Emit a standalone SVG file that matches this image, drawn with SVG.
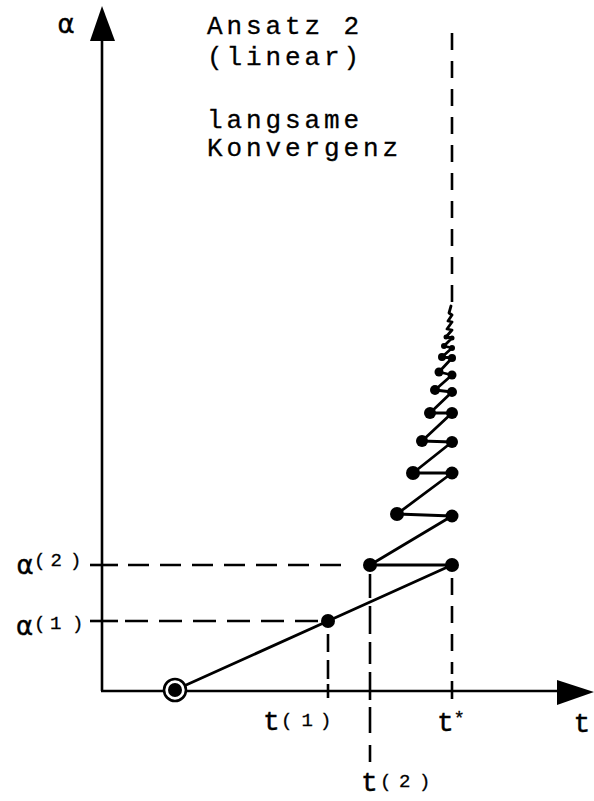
<svg xmlns="http://www.w3.org/2000/svg" width="594" height="801" viewBox="0 0 594 801">
<style>
.ax{stroke:#000;stroke-width:2.6;fill:none}
.ln{stroke:#000;stroke-width:2.8;fill:none;stroke-linejoin:round;stroke-linecap:round}
.dh{stroke:#000;stroke-width:2.6;fill:none}
.dot{fill:#000}
.mono{font-family:"Liberation Mono","DejaVu Sans Mono",monospace;fill:#000}
.big{font-size:26px;letter-spacing:3.9px;stroke:#000;stroke-width:0.3px}
.tl{font-size:28px;stroke:#000;stroke-width:0.4px}
.sup{font-size:19px;stroke:#000;stroke-width:0.3px}
.greek{font-family:"DejaVu Sans","Liberation Sans",sans-serif;font-size:26px;fill:#000;stroke:#000;stroke-width:0.4px}
</style>
<rect width="594" height="801" fill="#fff"/>
<g id="axes">
  <line class="ax" x1="102" y1="691" x2="102" y2="38"/>
  <polygon points="102,6 90,41 115,41" fill="#000"/>
  <line class="ax" x1="101" y1="691" x2="560" y2="691"/>
  <polygon points="594,692 557,680 557,705" fill="#000"/>
</g>
<g id="connectors">
  <line class="dh" x1="90" y1="565" x2="118" y2="565"/>
  <line class="dh" x1="128" y1="565" x2="352" y2="565" stroke-dasharray="21 11"/>
  <line class="dh" x1="90" y1="621" x2="118" y2="621"/>
  <line class="dh" x1="125" y1="621" x2="322" y2="621" stroke-dasharray="23 11"/>
  <line class="dh" x1="328" y1="634" x2="328" y2="652"/>
  <line class="dh" x1="328" y1="660" x2="328" y2="679"/>
  <line class="dh" x1="328" y1="684" x2="328" y2="698"/>
  <line class="dh" x1="370" y1="574" x2="370" y2="598"/>
  <line class="dh" x1="370" y1="606" x2="370" y2="634"/>
  <line class="dh" x1="370" y1="642" x2="370" y2="664"/>
  <line class="dh" x1="370" y1="672" x2="370" y2="700"/>
  <line class="dh" x1="370" y1="707" x2="370" y2="733"/>
  <line class="dh" x1="370" y1="745" x2="370" y2="762"/>
  <line class="dh" x1="452" y1="33" x2="452" y2="306" stroke-dasharray="17 11"/>
  <line class="dh" x1="452" y1="578" x2="452" y2="674" stroke-dasharray="17 11"/>
  <line class="dh" x1="452" y1="681" x2="452" y2="699"/>
  <polyline class="ln" points="175,690 328,621 452,565 370,565 452,516 397,514 452,473 413,473 452,442 422,441 452,413 430,413 452,392 435,390 452,375 439,372 452,358 442,357 452,348 444,346 452,338 446,337 452,330 447,329 452,322 448,321 452,315 449,313 451,306"/>
</g>
<g id="points">
  <circle cx="175" cy="690" r="11" fill="#fff" stroke="#000" stroke-width="2.6"/>
  <circle class="dot" cx="175" cy="690" r="7"/>
  <circle class="dot" cx="328" cy="621" r="7"/>
  <circle class="dot" cx="452" cy="565" r="7"/>
  <circle class="dot" cx="370" cy="565" r="7"/>
  <circle class="dot" cx="452" cy="516" r="6.5"/>
  <circle class="dot" cx="397" cy="514" r="7"/>
  <circle class="dot" cx="452" cy="473" r="6.5"/>
  <circle class="dot" cx="413" cy="473" r="7"/>
  <circle class="dot" cx="452" cy="442" r="6"/>
  <circle class="dot" cx="422" cy="441" r="6"/>
  <circle class="dot" cx="452" cy="413" r="6"/>
  <circle class="dot" cx="430" cy="413" r="6"/>
  <circle class="dot" cx="452" cy="392" r="5"/>
  <circle class="dot" cx="435" cy="390" r="5"/>
  <circle class="dot" cx="452" cy="375" r="4.5"/>
  <circle class="dot" cx="439" cy="372" r="4.5"/>
  <circle class="dot" cx="452" cy="358" r="4"/>
  <circle class="dot" cx="442" cy="357" r="4"/>
  <circle class="dot" cx="452" cy="348" r="3"/>
  <circle class="dot" cx="444" cy="346" r="3"/>
  <circle class="dot" cx="452" cy="338" r="2.5"/>
  <circle class="dot" cx="446" cy="337" r="2.5"/>
</g>
<g id="labels">
  <text class="greek" x="66" y="33" text-anchor="middle">α</text>
  <text class="greek" x="25" y="574" text-anchor="middle">α</text>
  <text class="mono sup" x="34 50.5 70" y="566">(2)</text>
  <text class="greek" x="24.5" y="635" text-anchor="middle">α</text>
  <text class="mono sup" x="34 50 72" y="629">(1)</text>
  <text class="mono tl" x="263" y="730">t</text>
  <text class="mono sup" x="281 301.5 320" y="726">(1)</text>
  <text class="mono tl" x="361" y="791">t</text>
  <text class="mono sup" x="380 399 419" y="787">(2)</text>
  <text class="mono tl" x="437" y="731">t</text>
  <text class="mono sup" x="453.5" y="724">*</text>
  <text class="mono tl" x="573.5" y="732">t</text>
</g>
<g id="note">
  <text class="mono big" x="207" y="34">Ansatz 2</text>
  <text class="mono big" x="207" y="65">(linear)</text>
  <text class="mono big" x="207" y="128">langsame</text>
  <text class="mono big" x="207" y="156">Konvergenz</text>
</g>
</svg>
